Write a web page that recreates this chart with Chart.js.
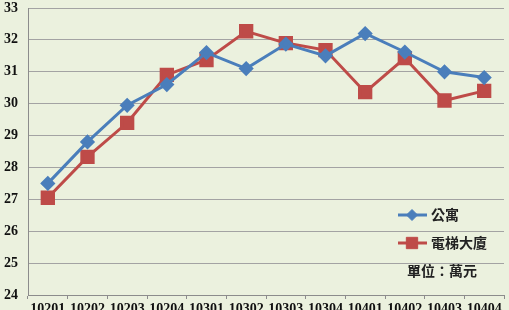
<!DOCTYPE html>
<html>
<head>
<meta charset="utf-8">
<script src="https://cdn.jsdelivr.net/npm/chart.js@4/dist/chart.umd.min.js"></script>
<style>
  html, body { margin:0; padding:0; background:#EBF1DE; }
  #wrap { width:509px; height:310px; }
</style>
</head>
<body>
<div id="wrap"><canvas id="chart" width="509" height="310"></canvas></div>
<script>
const periods = ['10201','10202','10203','10204','10301','10302','10303','10304','10401','10402','10403','10404'];
const apartment = [27.5, 28.8, 29.95, 30.6, 31.6, 31.1, 31.87, 31.5, 32.2, 31.62, 31.0, 30.82];
const elevatorBldg = [27.05, 28.33, 29.4, 30.9, 31.37, 32.27, 31.9, 31.68, 30.36, 31.43, 30.1, 30.4];
const seriesNames = ['公寓', '電梯大廈'];
const unitNote = '單位：萬元';
const yMin = 24, yMax = 33;

const serif = '"Liberation Serif", "DejaVu Serif", serif';
const cjk = '"Noto Sans CJK TC", "Noto Sans CJK SC", sans-serif';

const legendPlugin = {
    id: 'innerLegend',
    afterDraw(chart) {
        const ctx = chart.ctx;
        const rows = [215, 243];
        ctx.save();
        chart.data.datasets.forEach((ds, i) => {
            const y = rows[i];
            ctx.strokeStyle = ds.borderColor;
            ctx.lineWidth = 3;
            ctx.beginPath(); ctx.moveTo(398, y); ctx.lineTo(427, y); ctx.stroke();
            ctx.fillStyle = ds.pointBackgroundColor;
            ctx.lineWidth = 1;
            Chart.helpers.drawPoint(ctx, { pointStyle: ds.pointStyle, radius: ds.pointRadius, borderWidth: 1 }, 412, y);
            ctx.fillStyle = '#222';
            ctx.font = 'bold 14px ' + cjk;
            ctx.textBaseline = 'middle';
            ctx.textAlign = 'left';
            ctx.fillText(ds.label, 431, y);
        });
        ctx.fillStyle = '#222';
        ctx.font = 'bold 14px ' + cjk;
        ctx.textBaseline = 'middle';
        ctx.textAlign = 'left';
        ctx.fillText(unitNote, 407, 271);
        ctx.restore();
    }
};

new Chart(document.getElementById('chart'), {
    type: 'line',
    data: {
        labels: periods,
        datasets: [
            { label: seriesNames[0], data: apartment, borderColor: '#4A7EBB', backgroundColor: '#4A7EBB',
              pointBackgroundColor: '#4A7EBB', pointBorderColor: '#4A7EBB', pointStyle: 'rectRot', pointRadius: 5.5,
              borderWidth: 3, tension: 0 },
            { label: seriesNames[1], data: elevatorBldg, borderColor: '#BE4B48', backgroundColor: '#BE4B48',
              pointBackgroundColor: '#BE4B48', pointBorderColor: '#BE4B48', pointStyle: 'rect', pointRadius: 8,
              borderWidth: 3, tension: 0 }
        ]
    },
    options: {
        responsive: false,
        animation: false,
        layout: { autoPadding: false, padding: { top: 8, right: 5, left: 0, bottom: 0 } },
        plugins: { legend: { display: false }, tooltip: { enabled: false } },
        scales: {
            x: {
                offset: true,
                grid: { offset: true, drawOnChartArea: false, drawTicks: true, tickLength: 4, color: '#8c8c8c' },
                border: { display: true, color: '#8c8c8c', width: 1 },
                ticks: { color: '#111', padding: 2, maxRotation: 0, autoSkip: false, font: { family: serif, size: 14, weight: 'bold' } },
                afterFit(s) { s.height = 15; s.paddingLeft = 0; s.paddingRight = 0; }
            },
            y: {
                min: yMin, max: yMax,
                ticks: { stepSize: 1, color: '#111', padding: 10, font: { family: serif, size: 14, weight: 'bold' } },
                grid: { color: '#a3a3a3', lineWidth: 1, drawTicks: false },
                border: { display: true, color: '#8c8c8c', width: 1 },
                afterFit(s) { s.width = 28; s.paddingTop = 0; s.paddingBottom = 0; }
            }
        }
    },
    plugins: [legendPlugin]
});
</script>
</body>
</html>
